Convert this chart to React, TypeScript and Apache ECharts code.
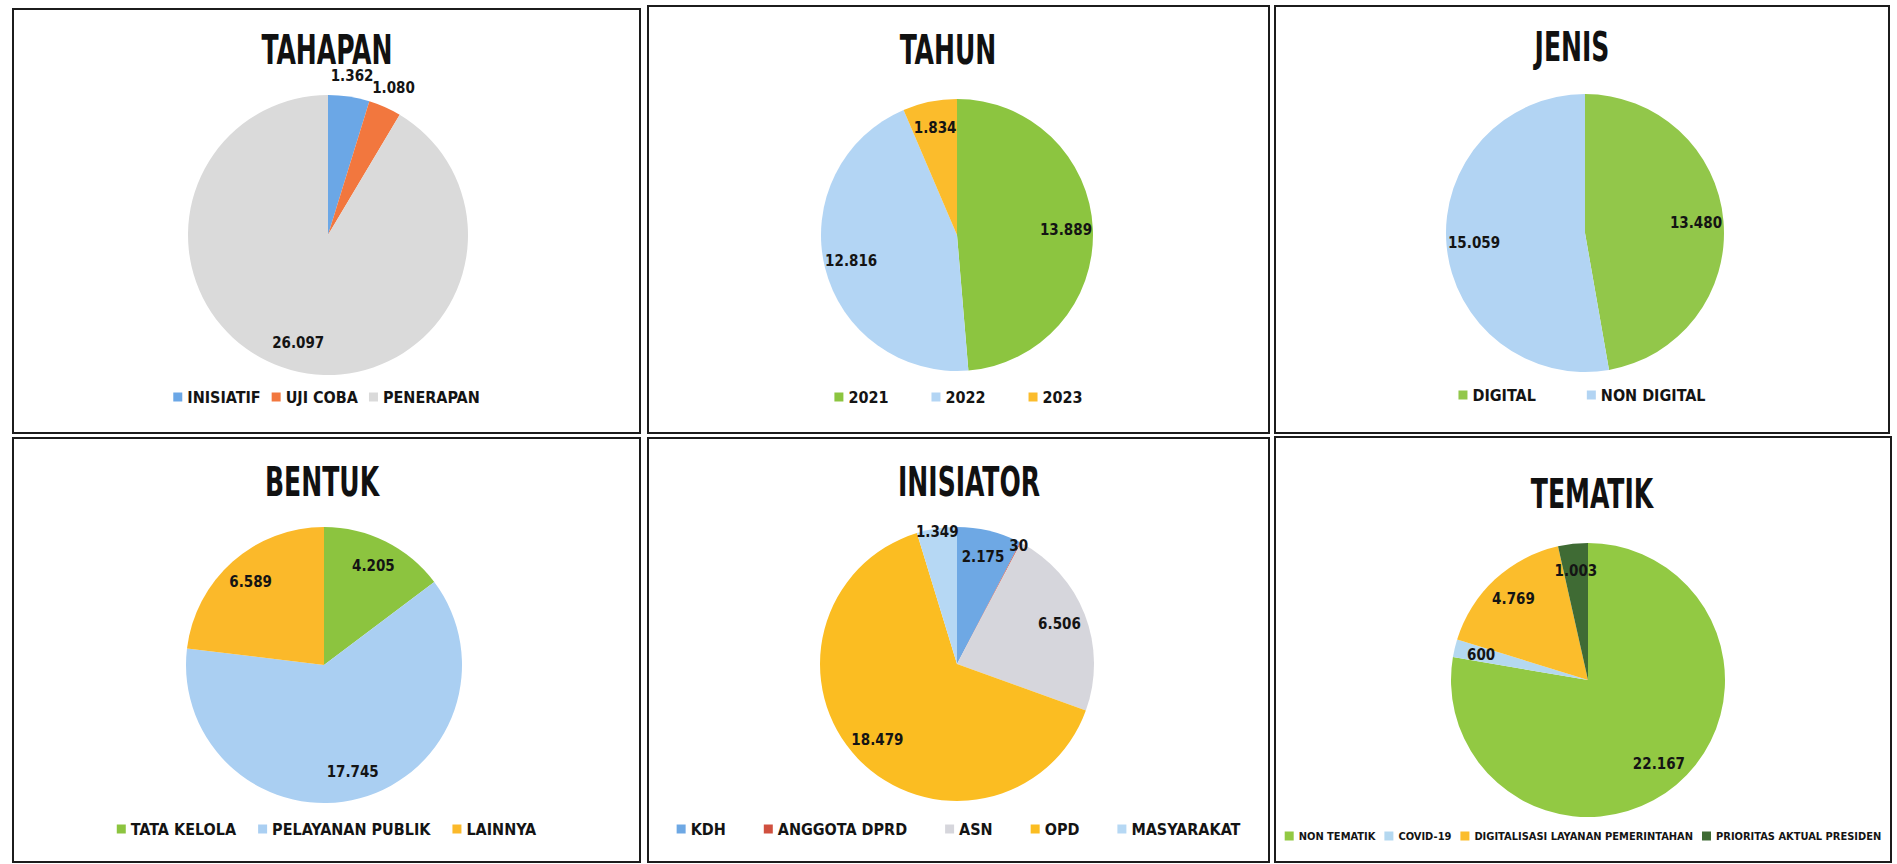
import React, { useEffect, useRef } from "react";
import * as echarts from "echarts";

const FONT = "'DejaVu Sans Condensed', 'DejaVu Sans', sans-serif";
const TEXT = "#141414";

// ---- data ----
const tahapanNames = ["INISIATIF", "UJI COBA", "PENERAPAN"];
const tahapanValues = [1362, 1080, 26097];
const tahapanColors = ["#6ba7e6", "#f2773e", "#dadada"];
const tahapanLabelPos = ["rim", "rim", "inside"];

const tahunNames = ["2021", "2022", "2023"];
const tahunValues = [13889, 12816, 1834];
const tahunColors = ["#8cc540", "#b3d5f4", "#fbbc2c"];
const tahunLabelPos = ["inside", "inside", "inside"];

const jenisNames = ["DIGITAL", "NON DIGITAL"];
const jenisValues = [13480, 15059];
const jenisColors = ["#92c74a", "#b2d4f3"];
const jenisLabelPos = ["inside", "inside"];

const bentukNames = ["TATA KELOLA", "PELAYANAN PUBLIK", "LAINNYA"];
const bentukValues = [4205, 17745, 6589];
const bentukColors = ["#8cc43f", "#aacff2", "#fbb92a"];
const bentukLabelPos = ["inside", "inside", "inside"];

const inisiatorNames = ["KDH", "ANGGOTA DPRD", "ASN", "OPD", "MASYARAKAT"];
const inisiatorValues = [2175, 30, 6506, 18479, 1349];
const inisiatorColors = ["#6ea8e4", "#d0503f", "#d6d6dc", "#fbbd22", "#b6d8f4"];
const inisiatorLabelPos = ["inside", "rim", "inside", "inside", "rim"];

const tematikNames = [
  "NON TEMATIK",
  "COVID-19",
  "DIGITALISASI LAYANAN PEMERINTAHAN",
  "PRIORITAS AKTUAL PRESIDEN",
];
const tematikValues = [22167, 600, 4769, 1003];
const tematikColors = ["#92c943", "#b4d8f0", "#fbbd2c", "#3f6b34"];
const tematikLabelPos = ["inside", "inside", "inside", "inside"];

// ---- layout (absolute page pixels) ----
const panels = [
  { title: "TAHAPAN", names: tahapanNames, values: tahapanValues, colors: tahapanColors, labelPos: tahapanLabelPos,
    box: [12, 8, 629, 426], center: [328, 235], r: 140, rim: 1.13, titleAt: [327, 50], legendY: 397, legendSize: 16, legendGap: 11 },
  { title: "TAHUN", names: tahunNames, values: tahunValues, colors: tahunColors, labelPos: tahunLabelPos,
    box: [647, 5, 623, 429], center: [957, 235], r: 136, rim: 1, titleAt: [948, 50], legendY: 397, legendSize: 16, legendGap: 43 },
  { title: "JENIS", names: jenisNames, values: jenisValues, colors: jenisColors, labelPos: jenisLabelPos,
    box: [1274, 5, 616, 429], center: [1585, 233], r: 139, rim: 1, titleAt: [1572, 47], legendY: 395, legendSize: 16, legendGap: 51 },
  { title: "BENTUK", names: bentukNames, values: bentukValues, colors: bentukColors, labelPos: bentukLabelPos,
    box: [12, 437, 629, 426], center: [324, 665], r: 138, rim: 1, titleAt: [322, 482], legendY: 829, legendSize: 16, legendGap: 22 },
  { title: "INISIATOR", names: inisiatorNames, values: inisiatorValues, colors: inisiatorColors, labelPos: inisiatorLabelPos,
    box: [647, 437, 623, 426], center: [957, 664], r: 137, rim: 0.95, titleAt: [969, 482], legendY: 829, legendSize: 16, legendGap: 38 },
  { title: "TEMATIK", names: tematikNames, values: tematikValues, colors: tematikColors, labelPos: tematikLabelPos,
    box: [1274, 436, 618, 427], center: [1588, 680], r: 137, rim: 1, titleAt: [1592, 494], legendY: 836, legendSize: 11, legendGap: 9 },
];

const BORDER = 2;

function fmt(v: number): string {
  return String(v).replace(/\B(?=(\d{3})+(?!\d))/g, ".");
}

function labelRing(p: any, center: number[], radius: number[], kind: string) {
  return {
    type: "pie",
    radius,
    center,
    startAngle: 90,
    clockwise: true,
    silent: true,
    avoidLabelOverlap: false,
    labelLayout: { hideOverlap: false },
    itemStyle: { color: "rgba(0,0,0,0)" },
    labelLine: { show: false },
    label: {
      position: "inside",
      fontFamily: FONT,
      fontWeight: "bold",
      fontSize: 15,
      color: TEXT,
      formatter: (q: any) => fmt(q.value),
    },
    data: p.names.map((n: string, i: number) => ({
      name: n,
      value: p.values[i],
      label: { show: p.labelPos[i] === kind },
    })),
  };
}

function buildOption(p: any) {
  const ox = p.box[0] + BORDER;
  const oy = p.box[1] + BORDER;
  const center = [p.center[0] - ox, p.center[1] - oy];
  return {
    animation: false,
    graphic: [
      {
        type: "text",
        x: p.titleAt[0] - ox,
        y: p.titleAt[1] - oy,
        scaleX: 0.82,
        scaleY: 1.2,
        style: {
          text: p.title,
          fontFamily: FONT,
          fontWeight: "bold",
          fontSize: 34,
          fill: "#111111",
          align: "center",
          verticalAlign: "middle",
        },
      },
    ],
    legend: {
      data: p.names,
      left: "center",
      top: p.legendY - oy - p.legendSize / 2,
      icon: "rect",
      itemWidth: 9,
      itemHeight: 9,
      itemGap: p.legendGap,
      padding: 0,
      selectedMode: false,
      textStyle: {
        fontFamily: FONT,
        fontWeight: "bold",
        fontSize: p.legendSize,
        color: TEXT,
      },
    },
    series: [
      {
        type: "pie",
        radius: p.r,
        center,
        startAngle: 90,
        clockwise: true,
        silent: true,
        label: { show: false },
        labelLine: { show: false },
        data: p.names.map((n: string, i: number) => ({
          name: n,
          value: p.values[i],
          itemStyle: { color: p.colors[i] },
        })),
      },
      labelRing(p, center, [p.r * 0.56, p.r], "inside"),
      labelRing(p, center, [p.r * (p.rim - 0.06), p.r * (p.rim + 0.06)], "rim"),
    ],
  };
}

function PiePanel({ p }: { p: any }) {
  const ref = useRef<HTMLDivElement>(null);
  useEffect(() => {
    if (!ref.current) return;
    const chart = echarts.init(ref.current, null, { renderer: "svg" });
    chart.setOption(buildOption(p));
    return () => chart.dispose();
  }, [p]);
  const [l, t, w, h] = p.box;
  return (
    <div
      style={{
        position: "absolute",
        left: l,
        top: t,
        width: w,
        height: h,
        border: `${BORDER}px solid #1c1c1c`,
        boxSizing: "border-box",
        background: "#ffffff",
      }}
    >
      <div ref={ref} style={{ width: w - 2 * BORDER, height: h - 2 * BORDER }} />
    </div>
  );
}

export default function App() {
  return (
    <div style={{ position: "absolute", left: 0, top: 0, width: 1897, height: 864, background: "#ffffff" }}>
      {panels.map((p) => (
        <PiePanel key={p.title} p={p} />
      ))}
    </div>
  );
}
